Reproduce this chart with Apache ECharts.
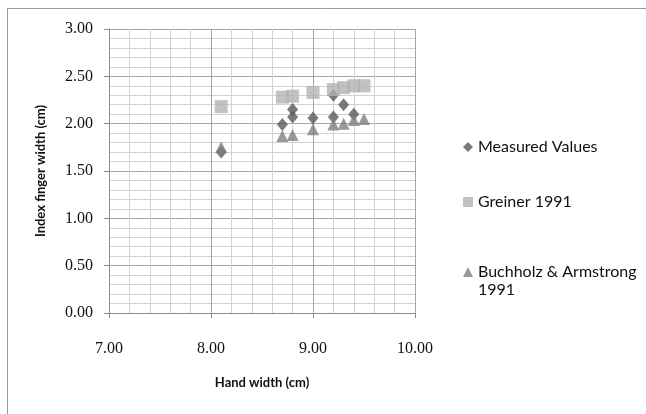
<!DOCTYPE html>
<html>
<head>
<meta charset="utf-8">
<script src="https://cdn.jsdelivr.net/npm/echarts@6/dist/echarts.min.js"></script>
<style>
  html, body { margin: 0; padding: 0; background: #fff; }
  #chart { width: 646px; height: 414px; }
</style>
</head>
<body>
<div id="chart"></div>
<script>
// Hand width (cm) vs index finger width (cm)
var measuredX = [8.1, 8.7, 8.8, 8.8, 9.0, 9.2, 9.2, 9.3, 9.4];
var measuredY = [1.70, 1.99, 2.15, 2.07, 2.06, 2.30, 2.07, 2.20, 2.10];

var greinerX = [8.1, 8.7, 8.8, 9.0, 9.2, 9.3, 9.4, 9.5];
var greinerY = [2.18, 2.28, 2.29, 2.33, 2.36, 2.38, 2.40, 2.40];

var buchholzX = [8.1, 8.7, 8.8, 9.0, 9.2, 9.3, 9.4, 9.5];
var buchholzY = [1.75, 1.87, 1.88, 1.94, 1.99, 2.00, 2.04, 2.05];

var seriesNames = ['Measured Values', 'Greiner 1991', 'Buchholz & Armstrong 1991'];
// the long legend entry wraps onto a second line
var wrappedName = ['Buchholz & Armstrong', '1991'];

function pairs(xs, ys) {
  return xs.map(function (x, i) { return [x, ys[i]]; });
}

var labelFont = { fontFamily: 'Liberation Serif', fontSize: 16, color: '#111' };
var legendText = { fontFamily: 'Lato', fontSize: 16, color: '#111' };
var titleFont = { fontFamily: 'Lato', fontWeight: 'bold', fontSize: 13, color: '#111' };

function legendAt(name, top, formatter) {
  var l = {
    data: [name], left: 458, top: top, orient: 'vertical',
    itemWidth: 10, itemHeight: 10, itemGap: 0, textStyle: legendText
  };
  if (formatter) l.formatter = formatter;
  return l;
}

var chart = echarts.init(document.getElementById('chart'));
chart.setOption({
  animation: false,
  backgroundColor: '#fff',
  graphic: [
    {
      type: 'rect',
      shape: { x: 7.5, y: 8.5, width: 700, height: 500 },
      style: { fill: 'none', stroke: '#9a9a9a', lineWidth: 1 },
      silent: true
    },
    {
      type: 'text', left: 478, top: 282,
      style: { text: wrappedName[1], font: '16px Lato', fill: '#111' },
      silent: true
    }
  ],
  grid: { left: 109, right: 231, top: 29, bottom: 101 },
  legend: [
    legendAt(seriesNames[0], 134),
    legendAt(seriesNames[1], 189),
    legendAt(seriesNames[2], 259, function () { return wrappedName[0]; })
  ],
  xAxis: {
    type: 'value', min: 7, max: 10, interval: 1,
    name: 'Hand width (cm)', nameLocation: 'middle', nameGap: 63,
    nameTextStyle: titleFont,
    axisLine: { show: true, lineStyle: { color: '#8c8c8c' } },
    axisTick: { show: true, length: 5, lineStyle: { color: '#8c8c8c' } },
    axisLabel: Object.assign({ margin: 28, formatter: function (v) { return v.toFixed(2); } }, labelFont),
    splitLine: { show: true, lineStyle: { color: '#a6a6a6' } },
    minorTick: { show: false, splitNumber: 5 },
    minorSplitLine: { show: true, lineStyle: { color: '#d2d2d2' } }
  },
  yAxis: {
    type: 'value', min: 0, max: 3, interval: 0.5,
    name: 'Index finger width (cm)', nameLocation: 'middle', nameGap: 62, nameRotate: 90,
    nameTextStyle: titleFont,
    axisLine: { show: true, lineStyle: { color: '#8c8c8c' } },
    axisTick: { show: true, length: 5, lineStyle: { color: '#8c8c8c' } },
    axisLabel: Object.assign({ margin: 16, formatter: function (v) { return v.toFixed(2); } }, labelFont),
    splitLine: { show: true, lineStyle: { color: '#a6a6a6' } },
    minorTick: { show: false, splitNumber: 5 },
    minorSplitLine: { show: true, lineStyle: { color: '#d2d2d2' } }
  },
  series: [
    {
      name: seriesNames[0], type: 'scatter', symbol: 'diamond', symbolSize: [11, 13],
      itemStyle: { color: '#595959' }, data: pairs(measuredX, measuredY)
    },
    {
      name: seriesNames[1], type: 'scatter', symbol: 'rect', symbolSize: 13,
      itemStyle: { color: '#b3b3b3' }, data: pairs(greinerX, greinerY)
    },
    {
      name: seriesNames[2], type: 'scatter', symbol: 'triangle', symbolSize: [12, 12],
      itemStyle: { color: '#808080' }, data: pairs(buchholzX, buchholzY)
    }
  ]
});
</script>
</body>
</html>
